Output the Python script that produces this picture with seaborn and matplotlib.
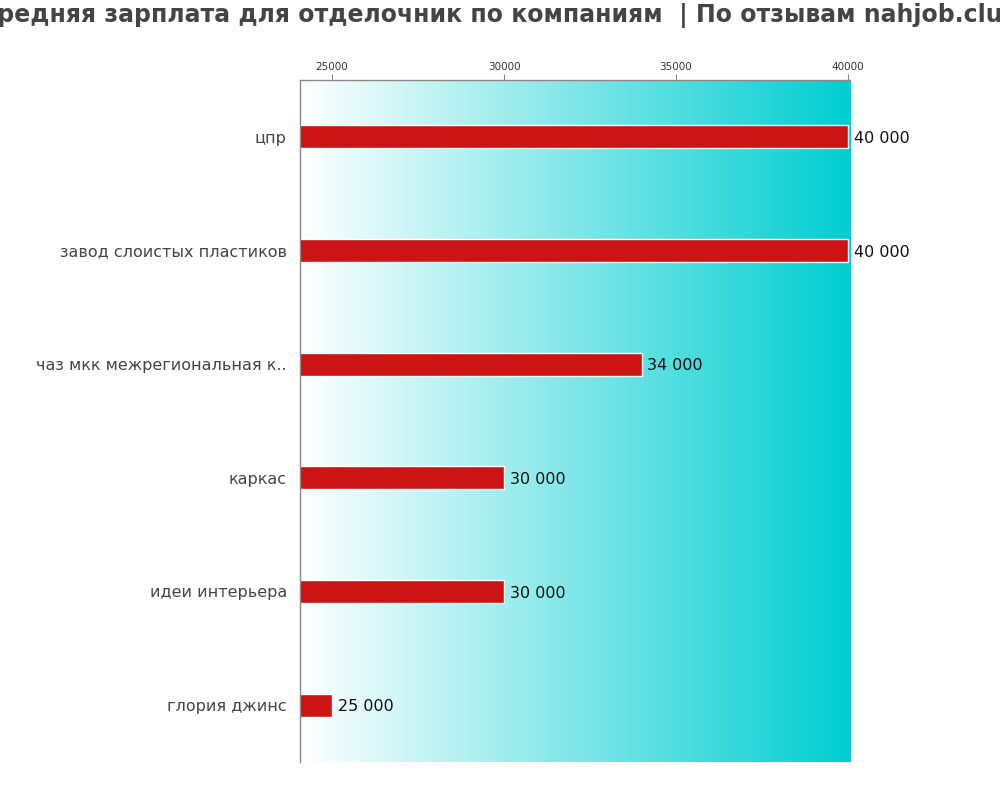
import numpy as np
import pandas as pd
import matplotlib
matplotlib.use("Agg")
import matplotlib.pyplot as plt
from matplotlib.colors import LinearSegmentedColormap
import seaborn as sns

companies = ["цпр", "завод слоистых пластиков", "чаз мкк межрегиональная к..",
             "каркас", "идеи интерьера", "глория джинс"]
salaries = [40000, 40000, 34000, 30000, 30000, 25000]
value_labels = ["40 000", "40 000", "34 000", "30 000", "30 000", "25 000"]
x_ticks = [25000, 30000, 35000, 40000]
title = "Средняя зарплата для отделочник по компаниям  | По отзывам nahjob.club"

sns.set_style("white")
plt.rcParams['font.family'] = ['DejaVu Sans']

fig = plt.figure(figsize=(10, 8), dpi=100)
ax = fig.add_axes([0.3, 0.0475, 0.55, 0.8525])

df = pd.DataFrame({"company": companies, "salary": salaries})
xmin, xmax = 24070, 40060

cmap = LinearSegmentedColormap.from_list("bg", ["#ffffff", "#00ced1"])
grad = np.linspace(0, 1, 256).reshape(1, -1)
ax.imshow(grad, aspect="auto", cmap=cmap, extent=[xmin, xmax, 5.5, -0.5], zorder=0)

sns.barplot(data=df, x="salary", y="company", orient="h", color="#cc1414",
            saturation=1, width=0.2, edgecolor="white", linewidth=1, ax=ax, zorder=2)

ax.set_xlim(xmin, xmax)
ax.set_ylim(5.5, -0.5)
for i, (v, lab) in enumerate(zip(salaries, value_labels)):
    ax.text(v + 170, i + 0.015, lab, va="center", ha="left", fontsize=11.5, color="#111111", zorder=3)

ax.xaxis.tick_top()
ax.set_xticks(x_ticks)
ax.set_xticklabels([str(t) for t in x_ticks], fontsize=7.5, color="#333333")
ax.tick_params(axis="x", top=True, length=4, color="#888888", pad=2)
ax.tick_params(axis="y", left=False, labelsize=11.5, labelcolor="#444444", pad=6)
ax.set_xlabel("")
ax.set_ylabel("")
for s in ["right", "bottom"]:
    ax.spines[s].set_visible(False)
for s in ["top", "left"]:
    ax.spines[s].set_color("#888888")
    ax.spines[s].set_linewidth(1)

fig.text(0.5, 0.98, title, ha="center", va="center", fontsize=17, fontweight="bold", color="#444444")

fig.savefig("out.png", dpi=100)
